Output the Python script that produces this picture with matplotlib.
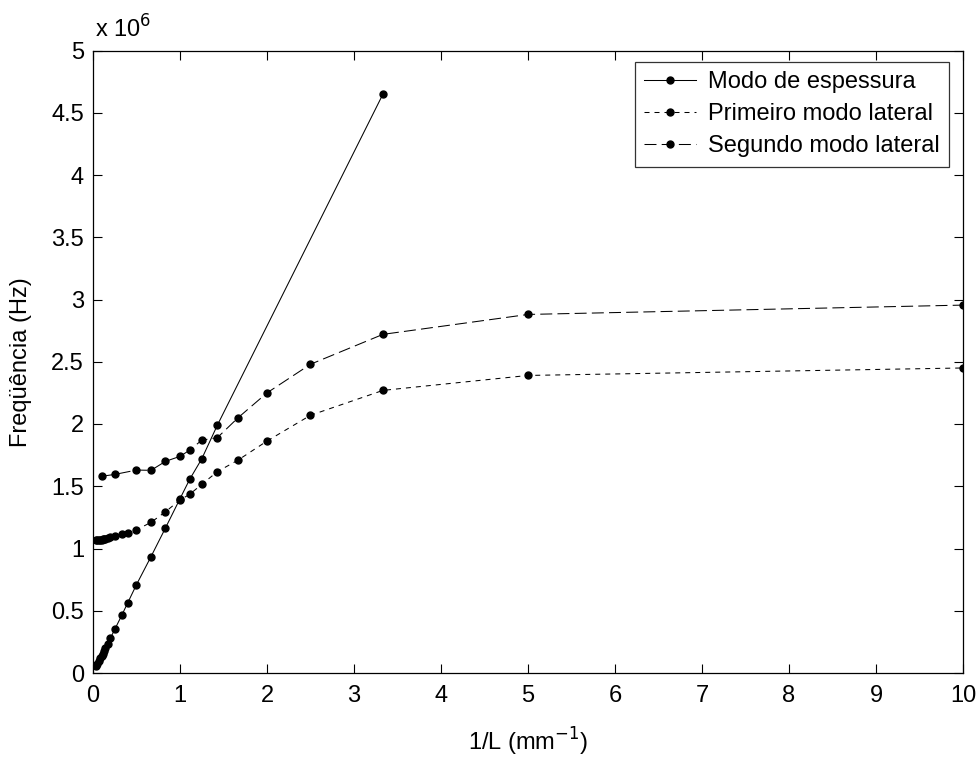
import matplotlib
matplotlib.use("Agg")
import matplotlib.pyplot as plt

plt.rcParams["font.family"] = ["Liberation Sans", "DejaVu Sans"]
plt.rcParams["font.size"] = 17

# Thickness mode: 1/L (mm^-1) and frequency (x 10^6 Hz)
inv_L_thick = [0.04, 0.05, 0.067, 0.083, 0.1, 0.111, 0.125, 0.143, 0.167, 0.2,
               0.25, 0.333, 0.4, 0.5, 0.667, 0.833, 1.0, 1.111, 1.25, 1.429, 3.333]
f_thick = [0.06, 0.07, 0.095, 0.117, 0.14, 0.156, 0.175, 0.2, 0.233, 0.28,
           0.35, 0.467, 0.565, 0.71, 0.935, 1.165, 1.40, 1.555, 1.72, 1.99, 4.65]

# First lateral mode
inv_L_lat1 = [0.04, 0.05, 0.067, 0.083, 0.1, 0.111, 0.125, 0.143, 0.167, 0.2,
              0.25, 0.333, 0.4, 0.5, 0.667, 0.833, 1.0, 1.111, 1.25, 1.429,
              1.667, 2.0, 2.5, 3.333, 5.0, 10.0]
f_lat1 = [1.065, 1.066, 1.068, 1.07, 1.072, 1.074, 1.076, 1.08, 1.085, 1.09,
          1.10, 1.115, 1.127, 1.15, 1.21, 1.295, 1.39, 1.435, 1.515, 1.617,
          1.71, 1.863, 2.07, 2.27, 2.39, 2.45]

# Second lateral mode
inv_L_lat2 = [0.1, 0.25, 0.5, 0.667, 0.833, 1.0, 1.111, 1.25, 1.429, 1.667,
              2.0, 2.5, 3.333, 5.0, 10.0]
f_lat2 = [1.58, 1.595, 1.63, 1.628, 1.70, 1.74, 1.79, 1.87, 1.89, 2.05,
          2.25, 2.48, 2.72, 2.88, 2.955]

labels = ["Modo de espessura", "Primeiro modo lateral", "Segundo modo lateral"]
x_ticks = list(range(0, 11))
y_ticks = [0, 0.5, 1, 1.5, 2, 2.5, 3, 3.5, 4, 4.5, 5]
y_tick_labels = ["0", "0.5", "1", "1.5", "2", "2.5", "3", "3.5", "4", "4.5", "5"]

W, H = 979, 758
fig = plt.figure(figsize=(W / 100, H / 100), dpi=100)
ax = fig.add_axes([93 / W, 1 - 673 / H, 870 / W, 622.5 / H])

lw = 0.75
mk = dict(marker="o", markersize=5, markerfacecolor="black",
          markeredgecolor="black", color="black", linewidth=lw)
ax.plot(inv_L_thick, f_thick, linestyle="-", label=labels[0], **mk)
ax.plot(inv_L_lat1, f_lat1, linestyle=(0, (4.8, 4.8)), label=labels[1], **mk)
ax.plot(inv_L_lat2, f_lat2, linestyle=(0, (11.5, 5)), label=labels[2], **mk)

ax.set_xlim(0, 10)
ax.set_ylim(0, 5)
ax.set_xticks(x_ticks)
ax.set_yticks(y_ticks)
ax.set_yticklabels(y_tick_labels)
ax.tick_params(direction="in", length=6.5, width=0.8, top=True, right=True,
               labelsize=17, colors="black")
ax.tick_params(axis="y", pad=6.5)
ax.tick_params(axis="x", pad=9)
for s in ax.spines.values():
    s.set_linewidth(0.9)

ax.set_xlabel("1/L (mm$^{-1}$)", fontsize=17, labelpad=13)
ax.set_ylabel("Freqüência (Hz)", fontsize=17, labelpad=14)
ax.text(0.002, 1.02, "x 10$^{6}$", transform=ax.transAxes, fontsize=17,
        ha="left", va="baseline")

leg = ax.legend(loc="upper right", bbox_to_anchor=(0.984, 0.9815),
                fontsize=17, frameon=True, fancybox=False, handlelength=2.2,
                borderpad=0.4, labelspacing=0.42, handletextpad=0.5,
                borderaxespad=0.0)
leg.get_frame().set_edgecolor("black")
leg.get_frame().set_linewidth(0.9)

fig.savefig("out.png", dpi=100, facecolor="white")
